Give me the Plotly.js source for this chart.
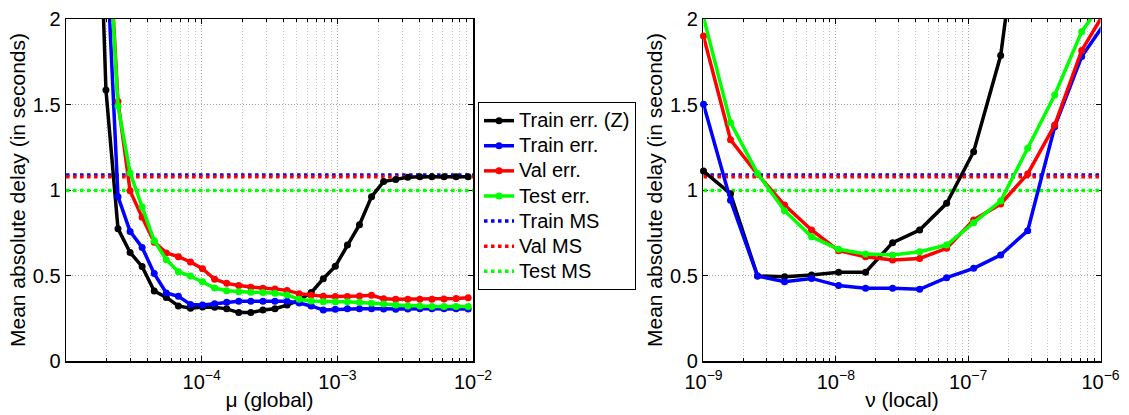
<!DOCTYPE html>
<html>
<head>
<meta charset="utf-8">
<script src="https://cdn.plot.ly/plotly-3.0.1.min.js"></script>
<style>html,body{margin:0;padding:0;background:#fff;}#chart{width:1129px;height:415px;}</style>
</head>
<body>
<div id="chart"></div>
<script>
// ---- data: left panel (mu, global) ----
const mu = [1.603e-5, 1.968e-5, 2.415e-5, 2.965e-5, 3.639e-5, 4.467e-5, 5.483e-5, 6.730e-5, 8.260e-5,
  1.014e-4, 1.245e-4, 1.528e-4, 1.875e-4, 2.301e-4, 2.825e-4, 3.467e-4, 4.256e-4, 5.224e-4, 6.412e-4,
  7.870e-4, 9.661e-4, 1.186e-3, 1.455e-3, 1.786e-3, 2.193e-3, 2.692e-3, 3.304e-3, 4.055e-3, 4.977e-3,
  6.109e-3, 7.499e-3, 9.204e-3];
const muTrainZ = [3.7, 1.585, 0.774, 0.635, 0.552, 0.409, 0.372, 0.322, 0.308, 0.316, 0.314, 0.305, 0.283,
  0.283, 0.298, 0.306, 0.327, 0.355, 0.400, 0.481, 0.554, 0.678, 0.797, 0.961, 1.049, 1.062, 1.075,
  1.078, 1.078, 1.078, 1.078, 1.078];
const muTrain = [4.5, 2.46, 0.961, 0.758, 0.664, 0.511, 0.398, 0.378, 0.331, 0.327, 0.335, 0.343, 0.349,
  0.349, 0.349, 0.349, 0.349, 0.339, 0.322, 0.298, 0.302, 0.305, 0.306, 0.306, 0.304, 0.303, 0.304,
  0.305, 0.305, 0.305, 0.305, 0.304];
const muVal = [5.0, 2.8, 1.517, 0.995, 0.840, 0.695, 0.632, 0.610, 0.579, 0.540, 0.478, 0.454, 0.442,
  0.431, 0.425, 0.421, 0.413, 0.394, 0.384, 0.378, 0.377, 0.377, 0.380, 0.384, 0.364, 0.361, 0.361,
  0.361, 0.361, 0.362, 0.366, 0.370];
const muTest = [5.0, 2.75, 1.491, 1.100, 0.900, 0.703, 0.592, 0.522, 0.497, 0.464, 0.427, 0.411, 0.405,
  0.402, 0.400, 0.396, 0.386, 0.361, 0.351, 0.347, 0.346, 0.346, 0.343, 0.337, 0.333, 0.327, 0.322,
  0.321, 0.318, 0.318, 0.318, 0.318];
const muRange = [1e-5, 1e-2];

// ---- data: right panel (nu, local) ----
const nu = [1e-9, 1.6e-9, 2.56e-9, 4.096e-9, 6.554e-9, 1.0486e-8, 1.6777e-8, 2.6844e-8, 4.295e-8,
  6.872e-8, 1.0995e-7, 1.7592e-7, 2.8147e-7, 4.5036e-7, 7.2058e-7, 1.15292e-6];
const nuTrainZ = [1.111, 0.978, 0.497, 0.493, 0.503, 0.519, 0.519, 0.692, 0.766, 0.922, 1.224, 1.786, 2.98];
const nuTrain = [1.501, 0.940, 0.497, 0.464, 0.483, 0.441, 0.425, 0.425, 0.419, 0.487, 0.542, 0.620, 0.762,
  1.37, 1.78, 2.01];
const nuVal = [1.90, 1.294, 1.092, 0.912, 0.766, 0.645, 0.610, 0.591, 0.600, 0.659, 0.825, 0.918, 1.094,
  1.380, 1.816, 2.08];
const nuTest = [2.01, 1.394, 1.097, 0.879, 0.727, 0.653, 0.626, 0.620, 0.639, 0.678, 0.809, 0.935, 1.244,
  1.556, 1.926, 2.15];
const nuRange = [1e-9, 1e-6];

// ---- mean-shift baselines ----
const trainMS = 1.087;
const valMS = 1.077;
const testMS = 0.997;

const errNames = ['Train err. (Z)', 'Train err.', 'Val err.', 'Test err.'];
const msNames = ['Train MS', 'Val MS', 'Test MS'];
const colors = ['#000000', '#0000ff', '#ff0000', '#00ff00'];
const msColors = ['#0000ff', '#ff0000', '#00ff00'];
const xTickTextL = ['', '10<sup>\u22124</sup>', '10<sup>\u22123</sup>', '10<sup>\u22122</sup>'];
const xTickValsL = [1e-5, 1e-4, 1e-3, 1e-2];
const xTickTextR = ['10<sup>\u22129</sup>', '10<sup>\u22128</sup>', '10<sup>\u22127</sup>', '10<sup>\u22126</sup>'];
const xTickValsR = [1e-9, 1e-8, 1e-7, 1e-6];

const FONT = 'Liberation Sans, Arial, Helvetica, sans-serif';
const legSpan = s => '<span style="font-size:20px">' + s + '</span>';
const traces = [];

function msTrace(xr, y, i, xa, ya, show) {
  return {x: xr, y: [y, y], xaxis: xa, yaxis: ya, mode: 'lines', name: legSpan(msNames[i]),
    line: {color: msColors[i], width: 3.5, dash: 'dot'}, showlegend: show, legendrank: 5 + i,
    hoverinfo: 'skip'};
}
function errTrace(x, y, i, xa, ya, show) {
  return {x: x, y: y, xaxis: xa, yaxis: ya, mode: 'lines+markers', name: legSpan(errNames[i]),
    line: {color: colors[i], width: 3.5}, marker: {color: colors[i], size: 7, symbol: 'circle'},
    cliponaxis: false, showlegend: show, legendrank: 1 + i};
}
const msVals = [trainMS, valMS, testMS];
msVals.forEach((v, i) => traces.push(msTrace(muRange, v, i, 'x', 'y', true)));
msVals.forEach((v, i) => traces.push(msTrace(nuRange, v, i, 'x2', 'y2', false)));
[muTrainZ, muTrain, muVal, muTest].forEach((s, i) => traces.push(errTrace(mu, s, i, 'x', 'y', true)));
[nuTrainZ, nuTrain, nuVal, nuTest].forEach((s, i) => traces.push(errTrace(nu.slice(0, s.length), s, i, 'x2', 'y2', false)));

const gridCol = '#a0a0a0';
function xAxis(dom, rng, tv, tt, title) {
  return {type: 'log', domain: dom, range: rng, tickmode: 'array', tickvals: tv, ticktext: tt,
    ticks: 'inside', ticklen: 5, tickwidth: 1, tickcolor: '#000', mirror: 'ticks',
    showline: true, linecolor: '#000', linewidth: 1.5, showgrid: true, gridcolor: gridCol,
    griddash: '1px,2px', gridwidth: 1, zeroline: false, layer: 'below traces',
    ticklabelstandoff: 2,
    minor: {tickmode: 'linear', dtick: 'D1', ticks: 'inside', ticklen: 3, tickcolor: '#000',
      showgrid: true, gridcolor: '#c4c4c4', griddash: '1px,2px', gridwidth: 1},
    tickfont: {family: FONT, size: 20, color: '#000'},
    title: {text: title, font: {family: FONT, size: 21, color: '#000'}, standoff: 1}};
}
function yAxis(anchor) {
  return {domain: [0, 1], range: [0, 2], tickmode: 'array', tickvals: [0, 0.5, 1, 1.5, 2],
    ticktext: ['0', '0.5', '1', '1.5', '2'], anchor: anchor,
    ticks: 'inside', ticklen: 5, tickwidth: 1, tickcolor: '#000', mirror: 'ticks',
    showline: true, linecolor: '#000', linewidth: 1.5, showgrid: true, gridcolor: gridCol,
    griddash: '1px,2px', gridwidth: 1, zeroline: false, layer: 'below traces',
    tickfont: {family: FONT, size: 20, color: '#000'},
    title: {text: 'Mean absolute delay (in seconds)', font: {family: FONT, size: 21, color: '#000'}, standoff: 1}};
}

const layout = {
  width: 1129, height: 415,
  margin: {l: 0, r: 0, t: 19, b: 54},
  paper_bgcolor: '#fff', plot_bgcolor: '#fff',
  font: {family: FONT, size: 19, color: '#000'},
  xaxis: xAxis([0.0585, 0.419], [-5, -2], xTickValsL, xTickTextL, '\u03bc (global)'),
  yaxis: yAxis('x'),
  xaxis2: xAxis([0.623, 0.9748], [-9.001, -6], xTickValsR, xTickTextR, '\u03bd (local)'),
  yaxis2: yAxis('x2'),
  showlegend: true,
  legend: {x: 0.4234, y: 0.757, xanchor: 'left', yanchor: 'top', bgcolor: '#fff',
    bordercolor: '#000', borderwidth: 1, font: {family: FONT, size: 17, color: '#000'},
    tracegroupgap: 0, itemwidth: 30}
};
layout.xaxis.anchor = 'y';
layout.xaxis2.anchor = 'y2';

Plotly.newPlot('chart', traces, layout, {staticPlot: true, displayModeBar: false});
</script>
</body>
</html>
